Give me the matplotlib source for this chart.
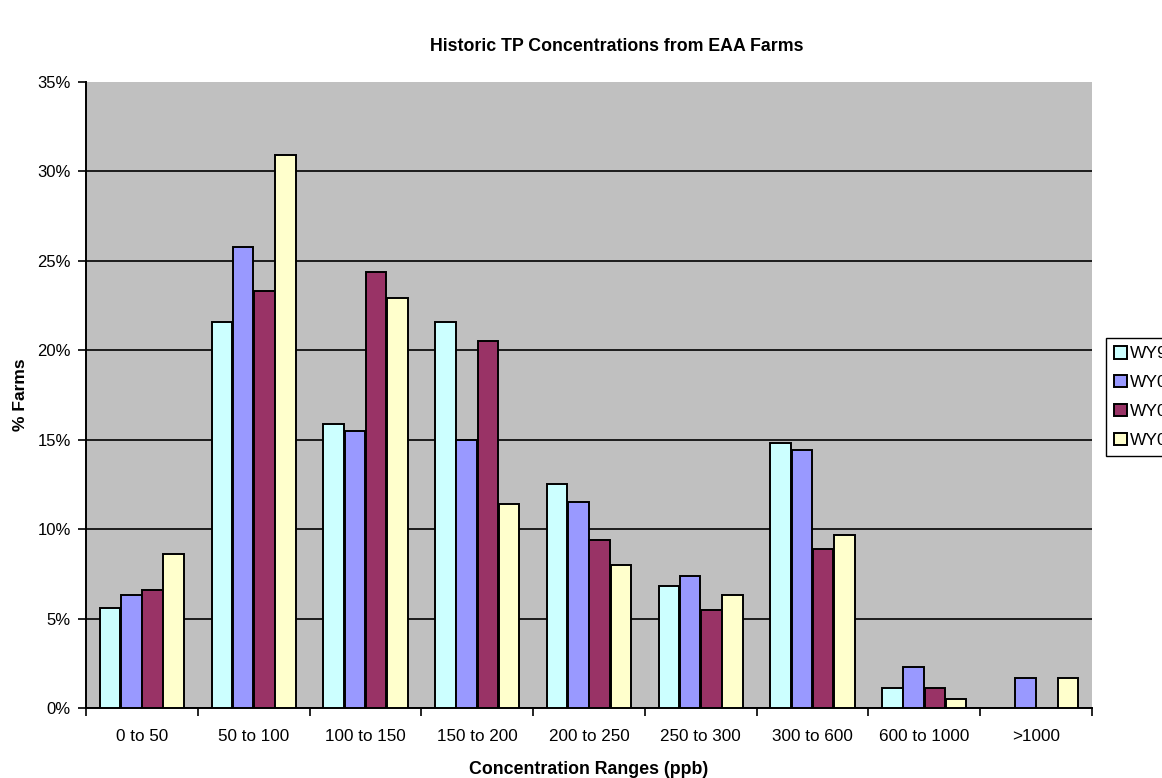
import numpy as np
import matplotlib
matplotlib.use("Agg")
from matplotlib import pyplot as plt

plt.rcParams['font.family'] = ['Liberation Sans', 'DejaVu Sans']

ranges = ["0 to 50", "50 to 100", "100 to 150", "150 to 200", "200 to 250",
          "250 to 300", "300 to 600", "600 to 1000", ">1000"]
series_names = ["WY99", "WY02", "WY03", "WY04"]
wy_a = [5.6, 21.6, 15.9, 21.6, 12.5, 6.8, 14.8, 1.1, 0.0]
wy_b = [6.3, 25.8, 15.5, 15.0, 11.5, 7.4, 14.4, 2.3, 1.7]
wy_c = [6.6, 23.3, 24.4, 20.5, 9.4, 5.5, 8.9, 1.1, 0.0]
wy_d = [8.6, 30.9, 22.9, 11.4, 8.0, 6.3, 9.7, 0.5, 1.7]
colors = ["#CCFFFF", "#9999FF", "#993366", "#FFFFCC"]

fig = plt.figure(figsize=(11.62, 7.78), dpi=100)
ax = fig.add_axes([86/1162, 70/778, (1092-86)/1162, (708-82)/778])
ax.set_facecolor("#C0C0C0")

x = np.arange(len(ranges))
w = 0.19
for i, (vals, name, c) in enumerate(zip([wy_a, wy_b, wy_c, wy_d], series_names, colors)):
    ax.bar(x + (i - 1.5) * w, vals, w * 0.97, color=c, edgecolor="black",
           linewidth=1.4, label=name, zorder=3)

ax.set_xlim(-0.5, len(ranges) - 0.5)
ax.set_ylim(0, 35)
ax.set_yticks(np.arange(0, 36, 5))
ax.set_yticklabels([f"{v}%" for v in range(0, 36, 5)], fontsize=12)
ax.yaxis.grid(True, color="black", linewidth=1.2, zorder=1)
ax.get_ygridlines()[-1].set_visible(False)
ax.set_axisbelow(True)

ax.set_xticks(x)
ax.set_xticklabels(ranges, fontsize=12.3)
ax.set_xticks(np.arange(-0.5, len(ranges)), minor=True)
ax.tick_params(axis="x", which="major", length=0, pad=15)
ax.tick_params(axis="x", which="minor", length=6, width=1.2, direction="out")
ax.tick_params(axis="y", length=6, width=1.2, direction="out", pad=5)

for s in ["top", "right"]:
    ax.spines[s].set_visible(False)
ax.spines["left"].set_linewidth(1.4)
ax.spines["bottom"].set_linewidth(1.4)

ax.set_ylabel("% Farms", fontsize=12.5, fontweight="bold", labelpad=7)
ax.set_xlabel("Concentration Ranges (ppb)", fontsize=12.8, fontweight="bold", labelpad=12)
fig.suptitle("Historic TP Concentrations from EAA Farms", fontsize=12.8,
             fontweight="bold", x=617/1162, y=1 - 38/778)

leg = fig.legend(loc="upper left", bbox_to_anchor=(1106/1162, 1 - 338/778),
                 fontsize=12.5, frameon=True, fancybox=False, edgecolor="black",
                 framealpha=1, handlelength=0.75, handleheight=0.75,
                 handletextpad=0.15, borderpad=0.45, borderaxespad=0,
                 labelspacing=0.78)
leg.get_frame().set_linewidth(1.0)

fig.savefig("out.png", dpi=100)
